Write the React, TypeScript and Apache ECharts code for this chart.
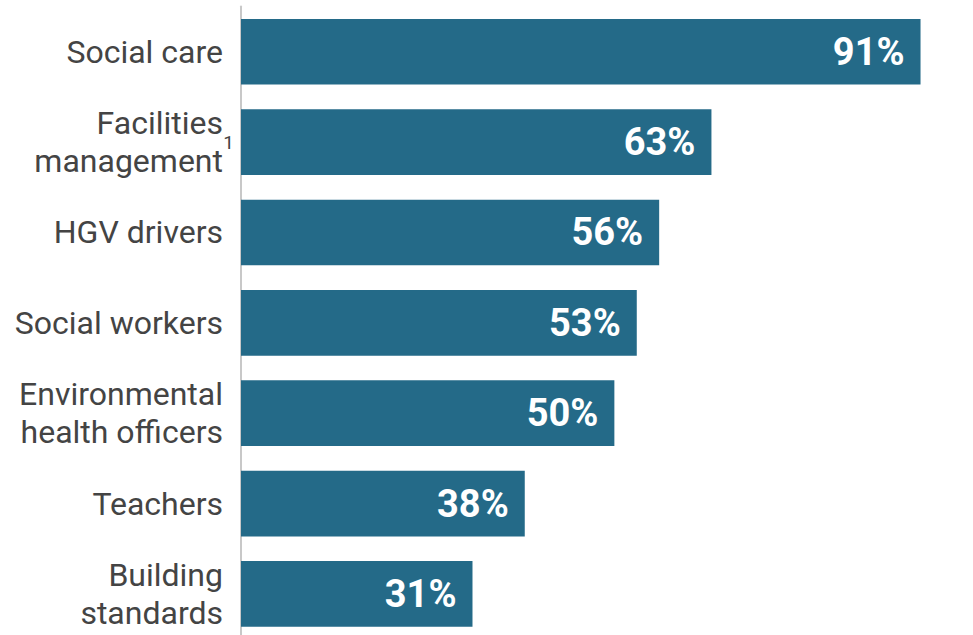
import React, { useEffect, useRef } from "react";
import * as echarts from "echarts";

const categories = [
  "Social care",
  "Facilities\nmanagement",
  "HGV drivers",
  "Social workers",
  "Environmental\nhealth officers",
  "Teachers",
  "Building\nstandards",
];
const values = [91, 63, 56, 53, 50, 38, 31];
const footnotes = ["", "1", "", "", "", "", ""];

export default function App() {
  const ref = useRef<HTMLDivElement>(null);
  useEffect(() => {
    if (!ref.current) return;
    const chart = echarts.init(ref.current, null, { renderer: "svg" });
    chart.setOption({
      animation: false,
      grid: { left: 241, width: 709.4, top: 6.6, height: 632.5, containLabel: false },
      xAxis: { type: "value", min: 0, max: 95, show: false },
      yAxis: [
        {
          type: "category",
          data: categories,
          inverse: true,
          axisLine: { show: true, lineStyle: { color: "#c8c8c8", width: 2 } },
          axisTick: { show: false },
          splitLine: { show: false },
          axisLabel: {
            margin: 18,
            color: "#444444",
            fontFamily: "Roboto",
            fontSize: 32,
            lineHeight: 38,
            align: "right",
          },
        },
        {
          type: "category",
          data: footnotes,
          inverse: true,
          position: "left",
          axisLine: { show: false },
          axisTick: { show: false },
          splitLine: { show: false },
          axisLabel: {
            margin: 7,
            color: "#444444",
            fontFamily: "Roboto",
            fontSize: 19,
            align: "right",
            interval: 0,
          },
        },
      ],
      series: [
        {
          type: "bar",
          data: values,
          barCategoryGap: "27.3%",
          itemStyle: { color: "#246a88" },
          label: {
            show: true,
            position: "insideRight",
            distance: 16,
            color: "#ffffff",
            fontFamily: "Roboto",
            fontWeight: "bold",
            fontSize: 38,
            formatter: "{c}%",
          },
        },
      ],
    });
    return () => chart.dispose();
  }, []);
  return (
    <div
      ref={ref}
      style={{ position: "fixed", left: 0, top: 0, width: 973, height: 645, background: "#ffffff" }}
    />
  );
}
